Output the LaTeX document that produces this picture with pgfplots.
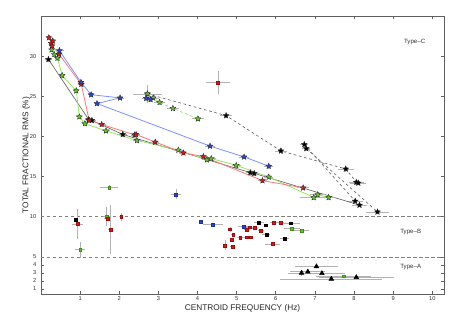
\documentclass[border=0pt]{standalone}
\usepackage{fontspec}
\setmainfont{Liberation Sans}
\usepackage{pgfplots}
\pgfplotsset{compat=1.18}

\definecolor{cred}{RGB}{225,20,20}
\definecolor{cgreen}{RGB}{95,200,40}
\definecolor{cblue}{RGB}{40,70,215}
\definecolor{lred}{RGB}{255,120,120}
\definecolor{lgreen}{RGB}{150,230,100}
\definecolor{lblue}{RGB}{125,145,255}
\definecolor{lgray}{RGB}{105,105,105}

% filled five-pointed star
\pgfdeclareplotmark{fstar}{%
  \pgfpathmoveto{\pgfpointpolar{90}{\pgfplotmarksize}}%
  \pgfpathlineto{\pgfpointpolar{126}{0.45\pgfplotmarksize}}%
  \pgfpathlineto{\pgfpointpolar{162}{\pgfplotmarksize}}%
  \pgfpathlineto{\pgfpointpolar{198}{0.45\pgfplotmarksize}}%
  \pgfpathlineto{\pgfpointpolar{234}{\pgfplotmarksize}}%
  \pgfpathlineto{\pgfpointpolar{270}{0.45\pgfplotmarksize}}%
  \pgfpathlineto{\pgfpointpolar{306}{\pgfplotmarksize}}%
  \pgfpathlineto{\pgfpointpolar{342}{0.45\pgfplotmarksize}}%
  \pgfpathlineto{\pgfpointpolar{18}{\pgfplotmarksize}}%
  \pgfpathlineto{\pgfpointpolar{54}{0.45\pgfplotmarksize}}%
  \pgfpathclose\pgfusepathqfillstroke}

\pgfplotsset{
  eb/.style={error bars/x dir=both, error bars/x explicit,
    error bars/y dir=both, error bars/y explicit,
    error bars/error mark=none,
    error bars/error bar style={gray!60, line width=0.5pt, solid}},
  st/.style={mark=fstar, mark size=2.3pt,
    mark options={solid, fill=#1, draw=black!85, line width=0.25pt}},
  sq/.style={only marks, mark=square*, mark size=1.05pt,
    mark options={fill=#1, draw=#1!70!black, line width=0.2pt}},
}

\begin{document}
\begin{tikzpicture}
\begin{axis}[
  name=ax,
  width=302pt, height=208.5pt, scale only axis,
  xmin=0, xmax=10.3, ymin=0.35, ymax=35,
  xtick={1,2,...,10},
  ytick={1,2,3,4,5,10,15,20,25,30},
  tick align=inside, tick pos=both,
  major tick length=2.6pt,
  axis line style={draw=gray!75!black, line width=0.7pt},
  tick style={gray!75!black, line width=0.5pt},
  /pgf/number format/assume math mode=true,
  tick label style={font=\fontsize{4.3}{5}\selectfont, text=black!80},
  xticklabel style={yshift=1.5pt},
  label style={font=\fontsize{6.2}{7}\selectfont, text=black!85},
  xlabel={CENTROID FREQUENCY (Hz)},
  ylabel={TOTAL FRACTIONAL RMS (\%)},
  xlabel style={yshift=4.5pt},
  ylabel style={yshift=-7pt},
]

% region separators
\addplot[gray, line width=0.5pt, dash pattern=on 2.5pt off 2pt] coordinates {(0,10) (10.3,10)};
\addplot[gray, line width=0.5pt, dash pattern=on 2.5pt off 2pt] coordinates {(0,5) (10.3,5)};

% ---- Type-C tracks ----
\addplot[lgray, line width=0.5pt, dash pattern=on 2pt off 2pt, eb, st=black] coordinates {
  (2.72,25.3) +- (0,0)
  (4.73,22.6) +- (0.15,0.35)
  (6.13,18.2) +- (0.15,0.35)
  (7.79,15.95) +- (0.2,0.35)
  (8.06,14.3) +- (0.2,0.3)
  (8.11,14.2) +- (0.2,0.3)
};
\addplot[lgray, line width=0.5pt, dash pattern=on 2pt off 2pt, eb, st=black] coordinates {
  (6.73,19.0) +- (0.1,0.3)
  (8.03,11.95) +- (0.2,0.3)
};
\addplot[lgray, line width=0.5pt, dash pattern=on 2pt off 2pt, eb, st=black] coordinates {
  (6.78,18.5) +- (0.1,0.3)
  (8.60,10.6) +- (0.3,0.3)
};
\addplot[lgreen, line width=0.6pt, dash pattern=on 2pt off 2pt, eb, st=cgreen] coordinates {
  (2.72,25.3) +- (0.38,1.1)
  (2.87,24.8) +- (0.15,0.3)
  (3.03,24.25) +- (0.15,0.3)
  (3.37,23.5) +- (0.15,0.3)
  (4.01,22.2) +- (0.15,0.3)
};
\addplot[only marks, eb, st=cblue] coordinates {
  (2.69,24.75) +- (0.1,0.3)
  (2.80,24.6) +- (0.1,0.3)
};

\addplot[lgray, line width=0.5pt, eb, st=black] coordinates {
  (0.19,29.6) +- (0.08,0.3)
  (1.22,22.1) +- (0.1,0.3)
  (1.30,22.0) +- (0.1,0.3)
  (2.09,20.25) +- (0.12,0.3)
  (5.35,15.5) +- (0.12,0.3)
  (5.45,15.4) +- (0.12,0.3)
  (8.14,11.45) +- (0.2,0.3)
};
\addplot[lgreen, line width=0.6pt, eb, st=cgreen] coordinates {
  (0.27,30.8) +- (0.06,0.3)
  (0.34,30.2) +- (0.06,0.3)
  (0.42,29.75) +- (0.06,0.3)
  (0.54,27.6) +- (0.06,0.3)
  (0.90,25.7) +- (0.08,0.3)
  (0.98,22.45) +- (0.08,0.3)
  (1.12,21.6) +- (0.08,0.3)
  (1.66,20.7) +- (0.1,0.3)
  (2.45,19.5) +- (0.1,0.3)
  (3.51,18.3) +- (0.12,0.3)
  (4.24,17.1) +- (0.12,0.3)
  (4.35,17.25) +- (0.12,0.3)
  (4.99,16.4) +- (0.12,0.3)
  (5.82,14.95) +- (0.12,0.3)
  (6.97,12.4) +- (0.35,0.3)
  (7.07,12.75) +- (0.2,0.3)
  (7.35,12.4) +- (0.2,0.3)
};
\addplot[lred, line width=0.6pt, eb, st=cred] coordinates {
  (0.20,32.3) +- (0.05,0.3)
  (0.30,31.9) +- (0.05,0.3)
  (0.26,31.6) +- (0.05,0.3)
  (0.28,31.3) +- (0.05,0.3)
  (0.46,30.25) +- (0.06,0.3)
  (1.03,26.5) +- (0.08,0.3)
  (1.23,22.0) +- (0.08,0.3)
  (1.55,21.5) +- (0.1,0.3)
  (2.39,20.2) +- (0.1,0.3)
  (2.43,20.25) +- (0.1,0.3)
  (2.92,19.3) +- (0.1,0.3)
  (3.64,17.95) +- (0.12,0.3)
  (4.15,17.5) +- (0.12,0.3)
  (5.66,14.5) +- (0.12,0.3)
  (6.70,13.6) +- (0.15,0.3)
};
\addplot[lblue, line width=0.6pt, eb, st=cblue] coordinates {
  (0.47,30.7) +- (0.12,0.3)
  (1.02,26.75) +- (0.08,0.3)
  (1.28,25.2) +- (0.08,0.3)
  (2.02,24.8) +- (0.1,0.3)
  (1.43,24.1) +- (0.08,0.3)
  (4.32,18.8) +- (0.12,0.3)
  (5.19,17.45) +- (0.12,0.3)
  (5.82,16.3) +- (0.12,0.3)
};
\addplot[eb, sq=cred] coordinates {(4.52,26.75) +- (0.3,1.45)};

% ---- Type-B ----
\addplot[eb, sq=black] coordinates {
  (0.88,9.6) +- (0.05,0.2)
  (5.57,9.3) +- (0.12,0.1)
  (5.74,8.95) +- (0.05,0.1)
  (5.76,7.8) +- (0.1,0.1)
  (6.23,7.25) +- (0.12,0.1)
  (6.38,9.2) +- (0.25,0.1)
};
\addplot[eb, sq=cgreen] coordinates {
  (1.0,5.9) +- (0.13,1.0)
  (1.68,10.0) +- (0.1,1.2)
  (1.74,13.6) +- (0.22,0.3)
  (6.41,8.55) +- (0.2,0.1)
  (6.66,8.3) +- (0.2,0.1)
};
\addplot[eb, sq=cred] coordinates {
  (0.93,9.1) +- (0.15,1.9)
  (1.70,9.8) +- (0.1,0.3)
  (1.77,8.4) +- (0.05,3.0)
  (2.05,10.0) +- (0.05,0.5)
  (4.83,8.45) +- (0.05,0.3)
  (4.91,7.75) +- (0.05,0.2)
  (4.88,7.1) +- (0.05,0.2)
  (4.70,6.45) +- (0.03,0.6)
  (4.89,6.3) +- (0.05,0.2)
  (5.09,7.4) +- (0.08,0.1)
  (5.25,7.45) +- (0.08,0.1)
  (5.35,7.45) +- (0.08,0.1)
  (5.26,8.4) +- (0.08,0.1)
  (5.33,8.7) +- (0.1,0.1)
  (5.47,8.6) +- (0.08,0.1)
  (5.62,8.3) +- (0.08,0.1)
  (5.94,9.25) +- (0.1,0.1)
  (6.12,9.3) +- (0.1,0.1)
  (5.92,6.6) +- (0.2,0.1)
};
\addplot[eb, sq=cblue] coordinates {
  (3.45,12.8) +- (0.13,0.6)
  (4.07,9.4) +- (0.03,0.1)
  (4.39,9.05) +- (0.25,0.1)
  (5.18,8.8) +- (0.15,0.1)
};

% ---- Type-A ----
\addplot[only marks, eb, mark=triangle*, mark size=2pt, mark options={fill=black, draw=black}] coordinates {
  (7.04,3.8) +- (0.55,0.1)
  (6.66,3.0) +- (0.35,0.4)
  (6.82,3.15) +- (0.45,0.1)
  (7.18,2.95) +- (0.6,0.1)
  (7.42,2.25) +- (1.3,0.1)
  (8.06,2.45) +- (0.95,0.1)
};
\addplot[eb, sq=cgreen] coordinates {(7.74,2.6) +- (0.7,0.1)};

\node[font=\fontsize{4.6}{5}\selectfont, text=black!80] at (axis cs:9.55,31.8) {Type--C};
\node[font=\fontsize{4.6}{5}\selectfont, text=black!80] at (axis cs:9.45,8.1) {Type--B};
\node[font=\fontsize{4.6}{5}\selectfont, text=black!80] at (axis cs:9.45,3.7) {Type--A};
\end{axis}
\path (ax.south west) ++(-30.75pt,-24.75pt);
\path (ax.north east) ++(14.25pt,12pt);
\end{tikzpicture}
\end{document}
